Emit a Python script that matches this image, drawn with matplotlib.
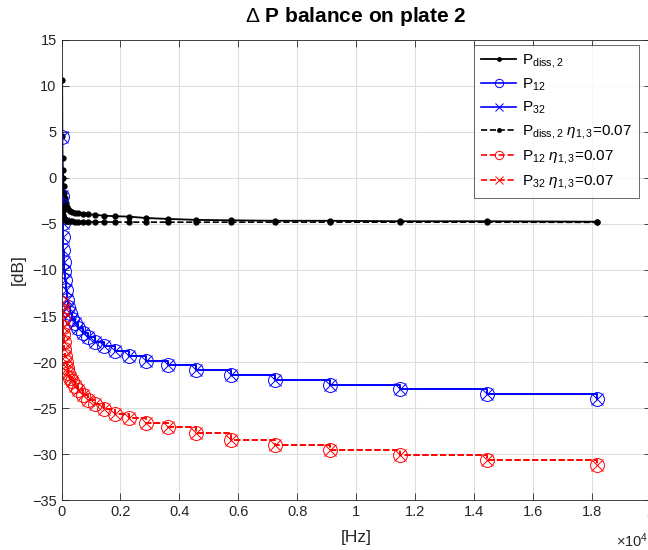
import matplotlib
matplotlib.use("Agg")
import matplotlib.pyplot as plt
from matplotlib.ticker import MultipleLocator, FuncFormatter

plt.rcParams['font.family'] = ['Liberation Sans', 'DejaVu Sans']
plt.rcParams['mathtext.fontset'] = 'custom'
plt.rcParams['mathtext.rm'] = 'Liberation Sans'
plt.rcParams['mathtext.it'] = 'Liberation Sans:italic'

# frequencies [Hz]
freq = [22.9, 28.8, 36.3, 45.7, 57.5, 72.4, 91.2, 114.8, 144.5, 182.0,
        229.1, 288.4, 363.1, 457.1, 575.4, 724.4, 912.0, 1148.2, 1445.4, 1819.7,
        2290.9, 2884.0, 3630.8, 4570.9, 5754.4, 7244.4, 9120.1, 11481.5, 14454.4, 18197.0]

# dissipated power on plate 2 [dB]
p_diss = [10.6, 4.6, 2.2, 0.9, 0.0, -0.9, -1.6, -2.2, -2.7, -3.1,
          -3.4, -3.6, -3.7, -3.8, -3.85, -3.9, -3.95, -4.0, -4.1, -4.15,
          -4.2, -4.35, -4.45, -4.55, -4.6, -4.65, -4.65, -4.7, -4.7, -4.75]
p_diss_eta = [-1.5, -3.0, -3.6, -4.0, -4.2, -4.35, -4.45, -4.55, -4.6, -4.65,
              -4.7, -4.7, -4.72, -4.74, -4.75, -4.76, -4.77, -4.78, -4.78, -4.79,
              -4.8, -4.8, -4.8, -4.8, -4.8, -4.8, -4.8, -4.8, -4.8, -4.82]

# transmitted power [dB]
p12 = [4.5, -2.0, -4.9, -6.4, -7.8, -9.1, -10.1, -11.1, -12.2, -13.3,
       -14.0, -14.7, -15.3, -15.8, -16.3, -16.85, -17.3, -17.8, -18.3, -18.85,
       -19.35, -19.85, -20.35, -20.9, -21.45, -21.95, -22.45, -22.95, -23.5, -24.0]
p32 = list(p12)
p12_eta = [-13.6, -14.4, -15.3, -16.2, -17.0, -17.8, -18.6, -19.3, -20.0, -20.6,
           -21.2, -21.7, -22.1, -22.6, -23.0, -23.6, -24.1, -24.6, -25.1, -25.6,
           -26.1, -26.6, -27.1, -27.7, -28.5, -29.0, -29.6, -30.1, -30.6, -31.2]
p32_eta = list(p12_eta)

X_START, X_END = 0, 2e4
Y_START, Y_END = -35, 15
AX_COL = "#262626"

fig = plt.figure(figsize=(6.48, 5.5), dpi=100)
ax = fig.add_axes([61.5 / 648, 50 / 550, 589 / 648, 460 / 550])

ax.grid(True, color="#dfdfdf", linewidth=0.8)
ax.set_axisbelow(True)

ax.plot(freq, p_diss, color="black", lw=1.3, marker=".", ms=7,
        label=r"P$_{\rm diss,2}$")
ax.plot(freq, p12, color="#0000ff", lw=1.2, marker="o", ms=10, mfc="none",
        mew=0.7, drawstyle="steps-post", label=r"P$_{12}$")
ax.plot(freq, p32, color="#0000ff", lw=1.2, marker="x", ms=9, mew=0.7,
        drawstyle="steps-post", label=r"P$_{32}$")
ax.plot(freq, p_diss_eta, color="black", lw=1.2, ls="--", marker=".", ms=7,
        label=r"P$_{\rm diss,2}$ $\eta_{1,3}$=0.07")
ax.plot(freq, p12_eta, color="#ff0000", lw=1.2, ls="--", marker="o", ms=10,
        mfc="none", mew=0.7, drawstyle="steps-post",
        label=r"P$_{12}$ $\eta_{1,3}$=0.07")
ax.plot(freq, p32_eta, color="#ff0000", lw=1.2, ls="--", marker="x", ms=9,
        mew=0.7, drawstyle="steps-post", label=r"P$_{32}$ $\eta_{1,3}$=0.07")

ax.set_xlim(X_START, X_END)
ax.set_ylim(Y_START, Y_END)
ax.xaxis.set_major_locator(MultipleLocator(2000))
ax.yaxis.set_major_locator(MultipleLocator(5))
ax.xaxis.set_major_formatter(FuncFormatter(lambda v, p: "%g" % (v / 1e4)))

ax.tick_params(direction="in", top=True, right=True, length=5, width=0.6,
               colors=AX_COL, labelsize=10.5, labelcolor=AX_COL)
for s in ax.spines.values():
    s.set_color(AX_COL)
    s.set_linewidth(0.6)

ax.set_title(r"$\Delta$ P balance on plate 2", fontsize=15, fontweight="bold",
             pad=13)
ax.set_xlabel("[Hz]", fontsize=12.5, color=AX_COL, labelpad=8)
ax.set_ylabel("[dB]", fontsize=12.5, color=AX_COL, labelpad=4)
fig.text(648 / 648, 1 - 541 / 550, r"$\times$10$^4$", ha="right", va="center",
         fontsize=10.5, color=AX_COL)

leg = ax.legend(loc="upper right", bbox_to_anchor=((639 - 61.5) / 589, 1 - 5 / 460),
                borderaxespad=0, fontsize=11, frameon=True, fancybox=False,
                handlelength=2.3, handletextpad=0.4, borderpad=0.45,
                labelspacing=0.45)
leg.get_frame().set_edgecolor(AX_COL)
leg.get_frame().set_linewidth(0.6)
for h in leg.legend_handles:
    h.set_markersize(6 if h.get_marker() in ("o", "x") else 5)

plt.savefig("out.png", dpi=100)
